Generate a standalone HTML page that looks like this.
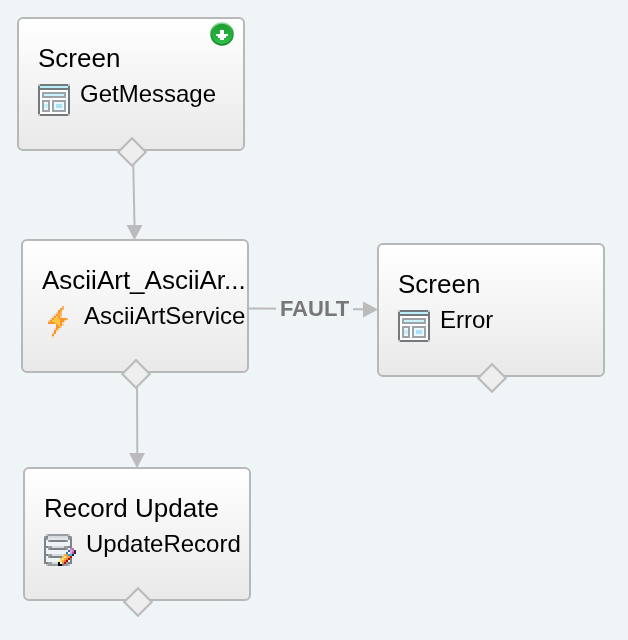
<!DOCTYPE html>
<html><head><meta charset="utf-8">
<style>
html,body{margin:0;padding:0;}
body{width:628px;height:640px;overflow:hidden;background:#eff4f7;position:relative;font-family:"Liberation Sans",sans-serif;}
.node{position:absolute;width:224px;height:130px;border:2px solid #b8b8b8;border-radius:6px;background:linear-gradient(#ffffff,#e9e9e9);will-change:transform;}
.title{position:absolute;left:19px;top:24px;font-size:26px;line-height:30px;color:#000;white-space:nowrap;}
.label{position:absolute;left:61px;top:61px;font-size:24px;line-height:28px;color:#000;white-space:nowrap;}
.icon{position:absolute;left:19px;top:65px;width:32px;height:32px;}
svg{display:block;}
svg.ov{position:absolute;left:0;top:0;}
.fault{position:absolute;left:276px;top:294px;width:77px;height:30px;font-size:22px;font-weight:bold;color:#777;line-height:30px;text-align:center;background:#eff4f7;will-change:transform;}
.badge{position:absolute;left:191px;top:3px;width:24px;height:24px;}
</style></head><body>

<svg class="ov" width="628" height="640">
  <g stroke="#bbbbbb" stroke-width="2" fill="none">
    <line x1="133.2" y1="160" x2="134.5" y2="226"/>
    <line x1="137" y1="382" x2="137.3" y2="454"/>
    <line x1="249" y1="308.5" x2="364" y2="309.3"/>
  </g>
  <g fill="#bbbbbb">
    <polygon points="126.5,225 142.5,225 134.5,240"/>
    <polygon points="129,453 145,453 137,468"/>
    <polygon points="363,301.5 363,317.5 378,309.5"/>
  </g>
</svg>

<div class="node" style="left:17px;top:17px;">
  <div class="title">Screen</div>
  <div class="icon"><svg width="32" height="32" viewBox="0 0 16 16" shape-rendering="crispEdges"><use href="#scr"/></svg></div>
  <div class="label">GetMessage</div>
  <div class="badge"><svg width="24" height="24" viewBox="0 0 24 24">
    <defs><linearGradient id="gg" x1="0" y1="0" x2="0" y2="1"><stop offset="0" stop-color="#1e9c32"/><stop offset="0.6" stop-color="#27b03e"/><stop offset="1" stop-color="#30c24c"/></linearGradient>
    <linearGradient id="gs" x1="0" y1="0" x2="0" y2="1"><stop offset="0" stop-color="#8fdc9c"/><stop offset="0.35" stop-color="#2aa83e"/><stop offset="1" stop-color="#17882a"/></linearGradient></defs>
    <circle cx="12" cy="12" r="11" fill="url(#gg)" stroke="url(#gs)" stroke-width="1.6"/>
    <polygon points="10,8 14,8 14,12 18,12 18,14 16,14 16,16 14,16 14,18 10,18 10,16 8,16 8,14 6,14 6,12 10,12" fill="#ffffff" shape-rendering="crispEdges"/>
  </svg></div>
</div>

<div class="node" style="left:21px;top:239px;">
  <div class="title">AsciiArt_AsciiAr...</div>
  <div class="icon"><svg width="32" height="32" viewBox="0 0 16 16" shape-rendering="crispEdges"><rect x="10" y="0" width="1" height="1" fill="#f9b468"/><rect x="9" y="1" width="1" height="1" fill="#f8942a"/><rect x="10" y="1" width="1" height="1" fill="#f9b468"/><rect x="8" y="2" width="1" height="1" fill="#f8942a"/><rect x="9" y="2" width="1" height="1" fill="#fbb13a"/><rect x="7" y="3" width="1" height="1" fill="#f6d2a8"/><rect x="8" y="3" width="1" height="1" fill="#f8942a"/><rect x="9" y="3" width="1" height="1" fill="#f9b468"/><rect x="6" y="4" width="1" height="1" fill="#f6d2a8"/><rect x="7" y="4" width="1" height="1" fill="#f8942a"/><rect x="8" y="4" width="1" height="1" fill="#fbb13a"/><rect x="9" y="4" width="1" height="1" fill="#f9b468"/><rect x="5" y="5" width="1" height="1" fill="#f6d2a8"/><rect x="6" y="5" width="1" height="1" fill="#f8942a"/><rect x="7" y="5" width="1" height="1" fill="#fdc746"/><rect x="8" y="5" width="1" height="1" fill="#f8942a"/><rect x="9" y="5" width="1" height="1" fill="#f6d2a8"/><rect x="4" y="6" width="1" height="1" fill="#f6d2a8"/><rect x="5" y="6" width="1" height="1" fill="#f8942a"/><rect x="6" y="6" width="2" height="1" fill="#fdc746"/><rect x="8" y="6" width="1" height="1" fill="#fbb13a"/><rect x="9" y="6" width="3" height="1" fill="#f8942a"/><rect x="12" y="6" width="1" height="1" fill="#f9b468"/><rect x="3" y="7" width="1" height="1" fill="#f6d2a8"/><rect x="4" y="7" width="1" height="1" fill="#f8942a"/><rect x="5" y="7" width="4" height="1" fill="#fdc746"/><rect x="9" y="7" width="2" height="1" fill="#f8942a"/><rect x="11" y="7" width="1" height="1" fill="#f6d2a8"/><rect x="3" y="8" width="3" height="1" fill="#f8942a"/><rect x="6" y="8" width="1" height="1" fill="#fbb13a"/><rect x="7" y="8" width="2" height="1" fill="#fdc746"/><rect x="9" y="8" width="1" height="1" fill="#f8942a"/><rect x="10" y="8" width="1" height="1" fill="#f6d2a8"/><rect x="7" y="9" width="1" height="1" fill="#f8942a"/><rect x="8" y="9" width="1" height="1" fill="#fdc746"/><rect x="9" y="9" width="1" height="1" fill="#f8942a"/><rect x="10" y="9" width="1" height="1" fill="#f6d2a8"/><rect x="7" y="10" width="2" height="1" fill="#f8942a"/><rect x="9" y="10" width="1" height="1" fill="#f6d2a8"/><rect x="6" y="11" width="1" height="1" fill="#f6d2a8"/><rect x="7" y="11" width="1" height="1" fill="#f8942a"/><rect x="8" y="11" width="1" height="1" fill="#f6d2a8"/><rect x="6" y="12" width="1" height="1" fill="#f8942a"/><rect x="7" y="12" width="1" height="1" fill="#f6d2a8"/><rect x="5" y="13" width="1" height="1" fill="#f6d2a8"/><rect x="6" y="13" width="1" height="1" fill="#f8942a"/><rect x="5" y="14" width="1" height="1" fill="#f8942a"/><rect x="5" y="15" width="1" height="1" fill="#f6d2a8"/></svg></div>
  <div class="label">AsciiArtService</div>
</div>

<div class="node" style="left:377px;top:243px;">
  <div class="title">Screen</div>
  <div class="icon"><svg width="32" height="32" viewBox="0 0 16 16" shape-rendering="crispEdges"><use href="#scr"/></svg></div>
  <div class="label">Error</div>
</div>

<div class="node" style="left:23px;top:467px;">
  <div class="title">Record Update</div>
  <div class="icon"><svg width="32" height="32" viewBox="0 0 16 16" shape-rendering="crispEdges"><rect x="1" y="0" width="1" height="1" fill="#bcc0c4"/><rect x="2" y="0" width="10" height="1" fill="#9a9ea2"/><rect x="12" y="0" width="1" height="1" fill="#bcc0c4"/><rect x="0" y="1" width="1" height="1" fill="#9a9ea2"/><rect x="1" y="1" width="1" height="1" fill="#7e8387"/><rect x="2" y="1" width="10" height="1" fill="#d4dade"/><rect x="12" y="1" width="1" height="1" fill="#7e8387"/><rect x="13" y="1" width="1" height="1" fill="#9a9ea2"/><rect x="0" y="2" width="1" height="1" fill="#7e8387"/><rect x="1" y="2" width="1" height="1" fill="#9a9ea2"/><rect x="2" y="2" width="10" height="1" fill="#e2e7ea"/><rect x="12" y="2" width="1" height="1" fill="#9a9ea2"/><rect x="13" y="2" width="1" height="1" fill="#7e8387"/><rect x="0" y="3" width="1" height="1" fill="#7e8387"/><rect x="1" y="3" width="1" height="1" fill="#eef3f6"/><rect x="2" y="3" width="1" height="1" fill="#9a9ea2"/><rect x="3" y="3" width="8" height="1" fill="#7e8387"/><rect x="11" y="3" width="1" height="1" fill="#9a9ea2"/><rect x="12" y="3" width="1" height="1" fill="#eef3f6"/><rect x="13" y="3" width="1" height="1" fill="#7e8387"/><rect x="0" y="4" width="1" height="1" fill="#7e8387"/><rect x="1" y="4" width="12" height="1" fill="#eef3f6"/><rect x="13" y="4" width="1" height="1" fill="#7e8387"/><rect x="0" y="5" width="1" height="1" fill="#7e8387"/><rect x="1" y="5" width="12" height="1" fill="#eef3f6"/><rect x="13" y="5" width="1" height="1" fill="#7e8387"/><rect x="0" y="6" width="2" height="1" fill="#7e8387"/><rect x="2" y="6" width="2" height="1" fill="#9a9ea2"/><rect x="4" y="6" width="6" height="1" fill="#d4dade"/><rect x="10" y="6" width="2" height="1" fill="#9a9ea2"/><rect x="12" y="6" width="2" height="1" fill="#7e8387"/><rect x="0" y="7" width="1" height="1" fill="#7e8387"/><rect x="1" y="7" width="1" height="1" fill="#eef3f6"/><rect x="2" y="7" width="1" height="1" fill="#9a9ea2"/><rect x="3" y="7" width="8" height="1" fill="#7e8387"/><rect x="11" y="7" width="1" height="1" fill="#9a9ea2"/><rect x="12" y="7" width="1" height="1" fill="#eef3f6"/><rect x="13" y="7" width="1" height="1" fill="#c47fc4"/><rect x="14" y="7" width="1" height="1" fill="#b878b8"/><rect x="0" y="8" width="1" height="1" fill="#7e8387"/><rect x="1" y="8" width="11" height="1" fill="#eef3f6"/><rect x="12" y="8" width="1" height="1" fill="#2a64a0"/><rect x="13" y="8" width="1" height="1" fill="#f4a4f4"/><rect x="14" y="8" width="1" height="1" fill="#c88ac8"/><rect x="15" y="8" width="1" height="1" fill="#4a2a3a"/><rect x="0" y="9" width="1" height="1" fill="#7e8387"/><rect x="1" y="9" width="10" height="1" fill="#eef3f6"/><rect x="11" y="9" width="1" height="1" fill="#3a78b4"/><rect x="12" y="9" width="1" height="1" fill="#ffffff"/><rect x="13" y="9" width="1" height="1" fill="#e69ae6"/><rect x="14" y="9" width="1" height="1" fill="#a06aa0"/><rect x="15" y="9" width="1" height="1" fill="#3a2030"/><rect x="0" y="10" width="2" height="1" fill="#7e8387"/><rect x="2" y="10" width="2" height="1" fill="#9a9ea2"/><rect x="4" y="10" width="6" height="1" fill="#d4dade"/><rect x="10" y="10" width="1" height="1" fill="#f4b040"/><rect x="11" y="10" width="1" height="1" fill="#e09a30"/><rect x="12" y="10" width="1" height="1" fill="#2aa0f0"/><rect x="13" y="10" width="1" height="1" fill="#40b4f8"/><rect x="14" y="10" width="1" height="1" fill="#102040"/><rect x="0" y="11" width="1" height="1" fill="#7e8387"/><rect x="1" y="11" width="1" height="1" fill="#eef3f6"/><rect x="2" y="11" width="1" height="1" fill="#9a9ea2"/><rect x="3" y="11" width="6" height="1" fill="#7e8387"/><rect x="9" y="11" width="1" height="1" fill="#f8b848"/><rect x="10" y="11" width="1" height="1" fill="#fde070"/><rect x="11" y="11" width="1" height="1" fill="#f8b040"/><rect x="12" y="11" width="1" height="1" fill="#f09838"/><rect x="13" y="11" width="1" height="1" fill="#c01010"/><rect x="0" y="12" width="1" height="1" fill="#7e8387"/><rect x="1" y="12" width="7" height="1" fill="#eef3f6"/><rect x="8" y="12" width="1" height="1" fill="#fcd060"/><rect x="9" y="12" width="1" height="1" fill="#fde878"/><rect x="10" y="12" width="1" height="1" fill="#f8a840"/><rect x="11" y="12" width="1" height="1" fill="#e88830"/><rect x="12" y="12" width="1" height="1" fill="#b80808"/><rect x="13" y="12" width="1" height="1" fill="#7e8387"/><rect x="0" y="13" width="1" height="1" fill="#7e8387"/><rect x="1" y="13" width="6" height="1" fill="#eef3f6"/><rect x="7" y="13" width="1" height="1" fill="#fcf0a0"/><rect x="8" y="13" width="1" height="1" fill="#fcd868"/><rect x="9" y="13" width="1" height="1" fill="#f8a840"/><rect x="10" y="13" width="1" height="1" fill="#e07828"/><rect x="11" y="13" width="1" height="1" fill="#b00000"/><rect x="12" y="13" width="1" height="1" fill="#eef3f6"/><rect x="13" y="13" width="1" height="1" fill="#7e8387"/><rect x="0" y="14" width="2" height="1" fill="#7e8387"/><rect x="2" y="14" width="2" height="1" fill="#9a9ea2"/><rect x="4" y="14" width="3" height="1" fill="#d4dade"/><rect x="7" y="14" width="1" height="1" fill="#000000"/><rect x="8" y="14" width="1" height="1" fill="#ffffff"/><rect x="9" y="14" width="1" height="1" fill="#f09030"/><rect x="10" y="14" width="1" height="1" fill="#c01010"/><rect x="11" y="14" width="1" height="1" fill="#9a9ea2"/><rect x="12" y="14" width="2" height="1" fill="#7e8387"/><rect x="1" y="15" width="1" height="1" fill="#bcc0c4"/><rect x="2" y="15" width="5" height="1" fill="#9a9ea2"/><rect x="7" y="15" width="2" height="1" fill="#000000"/><rect x="9" y="15" width="1" height="1" fill="#6a8090"/><rect x="10" y="15" width="2" height="1" fill="#9a9ea2"/><rect x="12" y="15" width="1" height="1" fill="#bcc0c4"/></svg></div>
  <div class="label">UpdateRecord</div>
</div>

<div class="fault">FAULT</div>

<svg class="ov" width="628" height="640">
  <defs>
    <g id="scr">
      <rect x="0" y="0" width="16" height="16" fill="#74797d"/>
      <rect x="0" y="0" width="1" height="1" fill="#c4c8cc"/><rect x="15" y="0" width="1" height="1" fill="#c4c8cc"/>
      <rect x="0" y="15" width="1" height="1" fill="#c4c8cc"/><rect x="15" y="15" width="1" height="1" fill="#c4c8cc"/>
      <rect x="1" y="1" width="14" height="1" fill="#bdeffb"/>
      <rect x="1" y="3" width="14" height="12" fill="#ffffff"/>
      <rect x="2" y="4" width="12" height="3" fill="#9ea3a8"/>
      <rect x="3" y="5" width="10" height="1" fill="#c9f3fd"/>
      <rect x="2" y="8" width="4" height="6" fill="#9ea3a8"/>
      <rect x="3" y="9" width="2" height="4" fill="#eaf9fd"/>
      <rect x="3" y="10" width="2" height="2" fill="#c6effa"/>
      <rect x="7" y="8" width="7" height="6" fill="#9ea3a8"/>
      <rect x="8" y="9" width="5" height="4" fill="#eaf9fd"/>
      <rect x="9" y="10" width="3" height="2" fill="#a6e2f6"/>
    </g>
  </defs>
  <g stroke="#bbbbbb" stroke-width="2.2" fill="#eeeeee" stroke-linejoin="miter">
    <polygon points="132,138.3 145.7,152 132,165.7 118.3,152"/>
    <polygon points="136,360.3 149.7,374 136,387.7 122.3,374"/>
    <polygon points="492,364.3 505.7,378 492,391.7 478.3,378"/>
    <polygon points="138,588.3 151.7,602 138,615.7 124.3,602"/>
  </g>
</svg>

</body></html>
